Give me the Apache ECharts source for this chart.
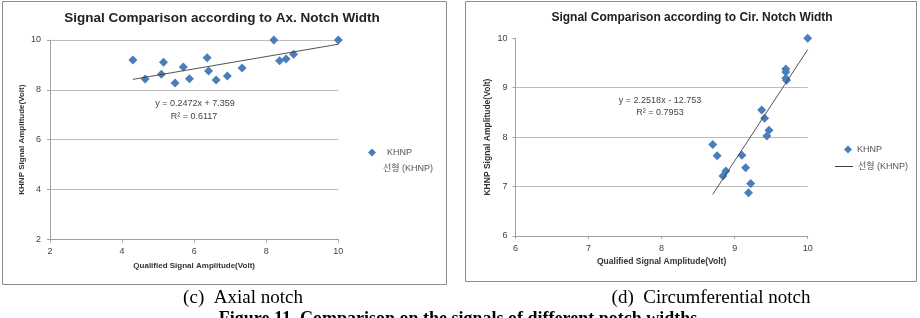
<!DOCTYPE html>
<html>
<head>
<meta charset="utf-8">
<script src="https://cdn.jsdelivr.net/npm/echarts@6/dist/echarts.min.js"></script>
<style>
html,body{margin:0;padding:0;background:#fff;}
#c{width:920px;height:318px;}
</style>
</head>
<body>
<div id="c"></div>
<script>
// ---- data ----
const axTitle = 'Signal Comparison according to Ax. Notch Width';
const cirTitle = 'Signal Comparison according to Cir. Notch Width';
const xName = 'Qualified Signal Amplitude(Volt)';
const yName = 'KHNP Signal Amplitude(Volt)';
const seriesName = 'KHNP';
const trendName = '선형 (KHNP)';

const axX = [4.30, 4.64, 5.15, 5.09, 5.47, 5.70, 5.87, 6.36, 6.40, 6.61, 6.92, 7.33, 8.21, 8.37, 8.55, 8.76, 10.0];
const axY = [9.20, 8.43, 9.11, 8.63, 8.27, 8.92, 8.44, 9.29, 8.76, 8.39, 8.55, 8.88, 10.0, 9.17, 9.24, 9.43, 10.0];
const axTrendX = [4.30, 10.0];
const axTrendY = [8.42, 9.83];
const axEq = 'y = 0.2472x + 7.359';
const axR2 = 'R² = 0.6117';

const cirX = [10.0, 9.70, 9.70, 9.70, 9.71, 9.37, 9.41, 9.47, 9.44, 8.70, 8.76, 9.10, 9.15, 8.88, 8.84, 9.22, 9.19];
const cirY = [10.0, 9.38, 9.32, 9.19, 9.15, 8.55, 8.38, 8.14, 8.02, 7.85, 7.62, 7.63, 7.38, 7.31, 7.21, 7.06, 6.87];
const cirTrendX = [8.70, 10.0];
const cirTrendY = [6.84, 9.77];
const cirEq = 'y = 2.2518x - 12.753';
const cirR2 = 'R² = 0.7953';

const captionC = '(c)  Axial notch';
const captionD = '(d)  Circumferential notch';
const figCaption = 'Figure 11. Comparison on the signals of different notch widths';

// ---- styles ----
const FONT = '"Liberation Sans", Arial, "Noto Sans CJK KR", sans-serif';
const blue = '#4A7EBB';
const gridCol = '#bdbdbd';
const axisCol = '#a0a0a0';
const txtCol = '#404040';

function zip(a, b) { return a.map((v, i) => [v, b[i]]); }

function xAxisCfg(idx, min, max, interval, nameGap, labelMargin, fs) {
  return {
    gridIndex: idx, type: 'value', min: min, max: max, interval: interval,
    name: xName, nameLocation: 'middle', nameGap: nameGap,
    nameTextStyle: { fontFamily: FONT, fontWeight: 'bold', fontSize: fs, color: '#333' },
    axisLine: { show: true, lineStyle: { color: axisCol, width: 1 } },
    axisTick: { show: true, length: 3, lineStyle: { color: axisCol } },
    axisLabel: { fontFamily: FONT, fontSize: 9, color: txtCol, margin: labelMargin },
    splitLine: { show: false }
  };
}
function yAxisCfg(idx, min, max, interval, nameGap, labelMargin, fs, splitColors) {
  return {
    gridIndex: idx, type: 'value', min: min, max: max, interval: interval,
    name: yName, nameLocation: 'middle', nameGap: nameGap, nameRotate: 90,
    nameTextStyle: { fontFamily: FONT, fontWeight: 'bold', fontSize: fs, color: '#333' },
    axisLine: { show: true, lineStyle: { color: axisCol, width: 1 } },
    axisTick: { show: true, length: 3, lineStyle: { color: axisCol } },
    axisLabel: { fontFamily: FONT, fontSize: 9, color: txtCol, margin: labelMargin },
    splitLine: { show: true, lineStyle: { color: splitColors, width: 1 } }
  };
}

const chart = echarts.init(document.getElementById('c'), null, { renderer: 'canvas' });

const option = {
  backgroundColor: '#ffffff',
  animation: false,
  grid: [
    { left: 50, top: 40, width: 288.3, height: 199.3, containLabel: false, outerBoundsMode: 'none' },
    { left: 515.5, top: 38.3, width: 292.2, height: 197.5, containLabel: false, outerBoundsMode: 'none' }
  ],
  xAxis: [
    xAxisCfg(0, 2, 10, 2, 22, 8, 8),
    xAxisCfg(1, 6, 10, 1, 22, 8, 8.5)
  ],
  yAxis: [
    yAxisCfg(0, 2, 10, 2, 24, 9, 8, [gridCol]),
    yAxisCfg(1, 6, 10, 1, 24, 8, 8.5, [gridCol, gridCol, gridCol, gridCol, 'rgba(0,0,0,0)'])
  ],
  legend: [
    { data: [{ name: seriesName, icon: 'diamond', itemStyle: { color: blue, opacity: 1 } }], left: 363, top: 143, itemWidth: 8, itemHeight: 8,
      textStyle: { fontFamily: FONT, fontSize: 9, color: '#555', padding: [0, 0, 0, 6] }, selectedMode: false },
    { data: [{ name: trendName, icon: 'rect', itemStyle: { opacity: 0 } }], left: 372, top: 159, itemWidth: 1, itemHeight: 1,
      textStyle: { fontFamily: FONT, fontSize: 9, color: '#555' }, selectedMode: false },
    { data: [{ name: seriesName, icon: 'diamond', itemStyle: { color: blue, opacity: 1 } }], left: 839, top: 140, itemWidth: 8, itemHeight: 8,
      textStyle: { fontFamily: FONT, fontSize: 9, color: '#555' }, selectedMode: false },
    { data: [{ name: trendName, icon: 'rect', itemStyle: { color: '#404040', opacity: 1 } }], left: 830, top: 157, itemWidth: 18, itemHeight: 1,
      textStyle: { fontFamily: FONT, fontSize: 9, color: '#555' }, selectedMode: false }
  ],
  series: [
    { name: seriesName, type: 'scatter', xAxisIndex: 0, yAxisIndex: 0, symbol: 'diamond', symbolSize: 9,
      itemStyle: { color: blue, opacity: 1 }, data: zip(axX, axY), z: 3 },
    { name: trendName, type: 'line', xAxisIndex: 0, yAxisIndex: 0, symbol: 'none', showSymbol: false,
      lineStyle: { color: '#404040', width: 0.9 }, itemStyle: { color: '#404040' }, data: zip(axTrendX, axTrendY), z: 4 },
    { name: seriesName, type: 'scatter', xAxisIndex: 1, yAxisIndex: 1, symbol: 'diamond', symbolSize: 9,
      itemStyle: { color: blue, opacity: 1 }, data: zip(cirX, cirY), z: 3 },
    { name: trendName, type: 'line', xAxisIndex: 1, yAxisIndex: 1, symbol: 'none', showSymbol: false,
      lineStyle: { color: '#404040', width: 0.9 }, itemStyle: { color: '#404040' }, data: zip(cirTrendX, cirTrendY), z: 4 }
  ],
  graphic: [
    { type: 'rect', shape: { x: 2.5, y: 1.5, width: 444, height: 283 }, style: { fill: 'none', stroke: '#8c8c8c', lineWidth: 1 }, z: -1, silent: true },
    { type: 'rect', shape: { x: 465.5, y: 1.5, width: 451, height: 280 }, style: { fill: 'none', stroke: '#8c8c8c', lineWidth: 1 }, z: -1, silent: true },
    { type: 'text', x: 222, y: 18, style: { text: axTitle, font: 'bold 13.5px ' + FONT, fill: '#222', align: 'center', verticalAlign: 'middle' } },
    { type: 'text', x: 692, y: 18, style: { text: cirTitle, font: 'bold 12px ' + FONT, fill: '#222', align: 'center', verticalAlign: 'middle' } },
    { type: 'text', x: 195, y: 104, style: { text: axEq, font: '9px ' + FONT, fill: '#444', align: 'center', verticalAlign: 'middle' } },
    { type: 'text', x: 194, y: 117, style: { text: axR2, font: '9px ' + FONT, fill: '#444', align: 'center', verticalAlign: 'middle' } },
    { type: 'text', x: 660, y: 101, style: { text: cirEq, font: '9px ' + FONT, fill: '#444', align: 'center', verticalAlign: 'middle' } },
    { type: 'text', x: 660, y: 113, style: { text: cirR2, font: '9px ' + FONT, fill: '#444', align: 'center', verticalAlign: 'middle' } },
    { type: 'text', x: 243, y: 298, style: { text: captionC, font: '19px "Liberation Serif", "Times New Roman", serif', fill: '#000', align: 'center', verticalAlign: 'middle' } },
    { type: 'text', x: 711, y: 298, style: { text: captionD, font: '19px "Liberation Serif", "Times New Roman", serif', fill: '#000', align: 'center', verticalAlign: 'middle' } },
    { type: 'text', x: 458, y: 310, style: { text: figCaption, font: 'bold 18px "Liberation Serif", "Times New Roman", serif', fill: '#000', align: 'center', verticalAlign: 'top' } }
  ]
};
chart.setOption(option);
</script>
</body>
</html>
